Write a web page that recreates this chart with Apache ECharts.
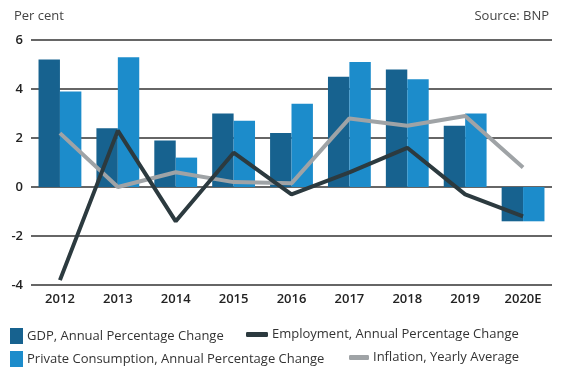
<!DOCTYPE html>
<html><head><meta charset="utf-8">
<script src="https://cdn.jsdelivr.net/npm/echarts@6/dist/echarts.min.js"></script>
<style>html,body{margin:0;padding:0;background:#fff}#c{width:575px;height:373px}</style>
</head><body><div id="c"></div>
<script>
const categories = ['2012','2013','2014','2015','2016','2017','2018','2019','2020E'];
const gdp = [5.2, 2.4, 1.9, 3.0, 2.2, 4.5, 4.8, 2.5, -1.4];
const privateConsumption = [3.9, 5.3, 1.2, 2.7, 3.4, 5.1, 4.4, 3.0, -1.4];
const employment = [-3.8, 2.3, -1.4, 1.4, -0.3, 0.6, 1.6, -0.3, -1.2];
const inflation = [2.2, 0.0, 0.6, 0.2, 0.15, 2.8, 2.5, 2.9, 0.8];
const yTicks = [-4, -2, 0, 2, 4, 6];

const names = ['GDP, Annual Percentage Change','Private Consumption, Annual Percentage Change','Employment, Annual Percentage Change','Inflation, Yearly Average'];
const cGdp = '#17628f', cPriv = '#1c8ccb', cEmp = '#2c3a3f', cInf = '#9fa3a6';
const font = '"Open Sans", Lato, sans-serif';
const chart = echarts.init(document.getElementById('c'));
function leg(name, left, top, icon, w, h){
  return {data:[name], left:left, top:top, icon:icon, itemWidth:w, itemHeight:h, itemGap:0,
    textStyle:{fontFamily:font, fontSize:13, color:'#333', padding:[0,0,0,-1]}, padding:0, selectedMode:false};
}
chart.setOption({
  animation:false,
  textStyle:{fontFamily:font},
  grid:{left:31, right:23, top:40, bottom:88},
  title:[
    {text:'Per cent', left:9, top:5, textStyle:{fontSize:13, fontWeight:'normal', color:'#444', fontFamily:font}},
    {text:'Source: BNP', right:21, top:5, textStyle:{fontSize:13, fontWeight:'normal', color:'#444', fontFamily:font}}
  ],
  legend:[
    leg(names[0], 10, 328, 'rect', 13, 16),
    leg(names[2], 246, 328, 'roundRect', 22, 5),
    leg(names[1], 10, 351, 'rect', 13, 16),
    leg(names[3], 349, 351, 'roundRect', 20, 5)
  ],
  xAxis:{type:'category', data:categories, axisLine:{show:false}, axisTick:{show:false},
    axisLabel:{margin:8, fontSize:13, color:'#222', fontWeight:600, fontFamily:font}},
  yAxis:{type:'value', min:yTicks[0], max:yTicks[yTicks.length-1], interval:2,
    axisLine:{show:false}, axisTick:{show:false},
    axisLabel:{margin:8, fontSize:13, color:'#222', fontWeight:600, fontFamily:font},
    splitLine:{lineStyle:{color:'#333', width:1.5}}},
  series:[
    {name:names[0], type:'bar', data:gdp, itemStyle:{color:cGdp}, barGap:'0%', barCategoryGap:'26%'},
    {name:names[1], type:'bar', data:privateConsumption, itemStyle:{color:cPriv}, barGap:'0%', barCategoryGap:'26%'},
    {name:names[3], type:'line', data:inflation, symbol:'none', lineStyle:{color:cInf, width:4}, itemStyle:{color:cInf}},
    {name:names[2], type:'line', data:employment, symbol:'none', lineStyle:{color:cEmp, width:4}, itemStyle:{color:cEmp}}
  ]
});
</script></body></html>
